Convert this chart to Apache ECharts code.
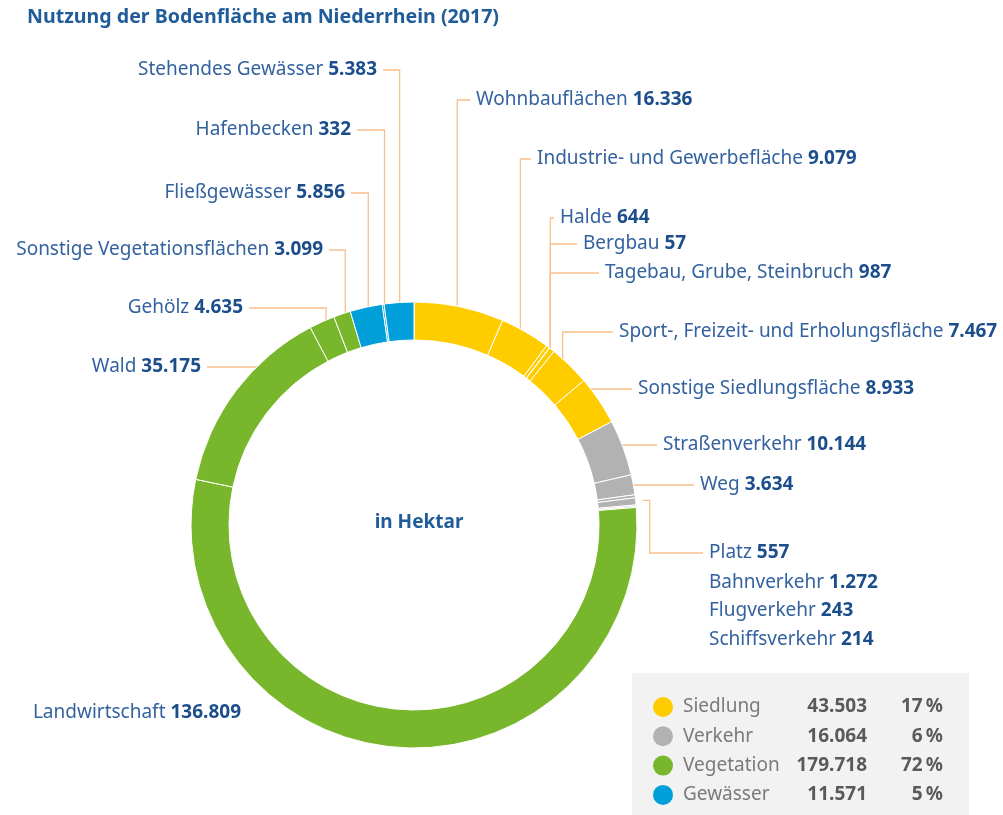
<!DOCTYPE html>
<html>
<head>
<meta charset="utf-8">
<script src="https://cdn.jsdelivr.net/npm/echarts@6/dist/echarts.min.js"></script>
<style>
  html, body { margin: 0; padding: 0; background: #fff; }
  #main { width: 1003px; height: 815px; }
</style>
</head>
<body>
<div id="main"></div>
<script>
// Daten (Hektar), im Uhrzeigersinn ab 12 Uhr
const sliceNames = ['Wohnbauflächen', 'Industrie- und Gewerbefläche', 'Halde', 'Bergbau',
  'Tagebau, Grube, Steinbruch', 'Sport-, Freizeit- und Erholungsfläche', 'Sonstige Siedlungsfläche',
  'Straßenverkehr', 'Weg', 'Platz', 'Bahnverkehr', 'Flugverkehr', 'Schiffsverkehr',
  'Landwirtschaft', 'Wald', 'Gehölz', 'Sonstige Vegetationsflächen',
  'Fließgewässer', 'Hafenbecken', 'Stehendes Gewässer'];
const sliceValues = [16336, 9079, 644, 57, 987, 7467, 8933,
  10144, 3634, 557, 1272, 243, 214,
  136809, 35175, 4635, 3099,
  5856, 332, 5383];
const sliceGroup = [0, 0, 0, 0, 0, 0, 0, 1, 1, 1, 1, 1, 1, 2, 2, 2, 2, 3, 3, 3];
const groupNames = ['Siedlung', 'Verkehr', 'Vegetation', 'Gewässer'];
const groupTotals = [43503, 16064, 179718, 11571];
const groupPercents = [17, 6, 72, 5];

// Layout
const groupColors = ['#FFCC00', '#B2B2B2', '#78B72B', '#009FDA'];
const CX = 414, CY = 525, R0 = 185, R1 = 223;
const FONT = 'Noto Sans';
const FS = 19;
const labelSpots = {
  'Wohnbauflächen': [476, 100, 'left'],
  'Industrie- und Gewerbefläche': [537, 159, 'left'],
  'Halde': [560, 218, 'left'],
  'Bergbau': [583, 244, 'left'],
  'Tagebau, Grube, Steinbruch': [605, 273, 'left'],
  'Sport-, Freizeit- und Erholungsfläche': [619, 332, 'left'],
  'Sonstige Siedlungsfläche': [638, 389, 'left'],
  'Straßenverkehr': [663, 445, 'left'],
  'Weg': [700, 485, 'left'],
  'Platz': [709, 553, 'left'],
  'Bahnverkehr': [709, 583, 'left'],
  'Flugverkehr': [709, 611, 'left'],
  'Schiffsverkehr': [709, 640, 'left'],
  'Landwirtschaft': [241, 713, 'right'],
  'Wald': [201, 367, 'right'],
  'Gehölz': [243, 308, 'right'],
  'Sonstige Vegetationsflächen': [323, 250, 'right'],
  'Fließgewässer': [345, 193, 'right'],
  'Hafenbecken': [351, 130, 'right'],
  'Stehendes Gewässer': [377, 70, 'right']
};
// gemeinsame Zielpunkte für gruppierte Beschriftungen
const leaderAim = {
  'Halde': { from: 2, to: 4, r: 223 },
  'Bergbau': { from: 2, to: 4, r: 223 },
  'Tagebau, Grube, Steinbruch': { from: 2, to: 4, r: 223 },
  'Platz': { from: 9, to: 12, r: 230, kink: 7 },
  'Wald': { from: 14, to: 14, r: 206, frac: 0.58 }
};
const noLeader = ['Landwirtschaft', 'Bahnverkehr', 'Flugverkehr', 'Schiffsverkehr'];

const total = sliceValues.reduce((a, b) => a + b, 0);
const cumStart = [];
let acc = 0;
sliceValues.forEach(v => { cumStart.push(acc); acc += v; });

function aimPoint(from, to, r, frac) {
  const a0 = cumStart[from] / total * 2 * Math.PI;
  const a1 = (cumStart[to] + sliceValues[to]) / total * 2 * Math.PI;
  const a = a0 + (a1 - a0) * (frac == null ? 0.5 : frac);
  return [CX + r * Math.sin(a), CY - r * Math.cos(a)];
}

function fmt(v) {
  return String(v).replace(/\B(?=(\d{3})+(?!\d))/g, '.');
}

const myChart = echarts.init(document.getElementById('main'));

const legendRows = [];
groupNames.forEach((g, i) => {
  const y = 707 + i * 29.3;
  legendRows.push(
    { type: 'circle', shape: { cx: 663, cy: y, r: 10 }, style: { fill: groupColors[i] } },
    { type: 'text', x: 683, y: y, style: { text: g, font: FS + 'px "' + FONT + '"', fill: '#7A7A7A', align: 'left', verticalAlign: 'middle' } },
    { type: 'text', x: 867, y: y, style: { text: fmt(groupTotals[i]), font: 'bold ' + FS + 'px "' + FONT + '"', fill: '#5A5A5A', align: 'right', verticalAlign: 'middle' } },
    { type: 'text', x: 943, y: y, style: { text: groupPercents[i] + '\u2009%', font: 'bold ' + FS + 'px "' + FONT + '"', fill: '#5A5A5A', align: 'right', verticalAlign: 'middle' } }
  );
});

const option = {
  animation: false,
  title: [{
    text: 'Nutzung der Bodenfläche am Niederrhein (2017)',
    left: 22, top: 2,
    textStyle: { fontFamily: FONT, fontSize: 19.6, fontWeight: 'bold', color: '#1F5C99' }
  }, {
    text: 'in Hektar',
    left: CX, top: CY - 17, textAlign: 'center',
    textStyle: { fontFamily: FONT, fontSize: FS, fontWeight: 'bold', color: '#1F5C99' }
  }],
  graphic: [
    { type: 'rect', shape: { x: 632, y: 673, width: 337, height: 142 }, style: { fill: '#F2F2F2' }, z: 0 },
    ...legendRows
  ],
  series: [{
    type: 'pie',
    center: [CX, CY],
    radius: [R0, R1],
    startAngle: 90,
    clockwise: true,
    avoidLabelOverlap: false,
    silent: true,
    itemStyle: { borderColor: '#fff', borderWidth: 1 },
    label: {
      show: true,
      position: 'outside',
      formatter: p => '{n|' + p.name + ' }{v|' + fmt(p.value) + '}',
      rich: {
        n: { fontFamily: FONT, fontSize: FS, color: '#33629F' },
        v: { fontFamily: FONT, fontSize: FS, fontWeight: 'bold', color: '#1D4E8C' }
      }
    },
    labelLine: {
      show: true, length: 5, length2: 5, smooth: false,
      lineStyle: { color: '#F9C08C', width: 1.3 }
    },
    labelLayout: function (p) {
      const name = sliceNames[p.dataIndex];
      const spot = labelSpots[name];
      const aim = leaderAim[name] || { from: p.dataIndex, to: p.dataIndex, r: 213 };
      const pt = aimPoint(aim.from, aim.to, aim.r, aim.frac);
      const sx = spot[2] === 'left' ? spot[0] - 6 : spot[0] + 6;
      const vx = pt[0] + (aim.kink || 0);
      return {
        x: spot[0], y: spot[1], align: spot[2], verticalAlign: 'middle',
        labelLinePoints: [[sx, spot[1]], [vx, spot[1]], [vx, pt[1]], [pt[0], pt[1]]]
      };
    },
    data: sliceNames.map((n, i) => ({
      name: n,
      value: sliceValues[i],
      itemStyle: { color: groupColors[sliceGroup[i]] },
      labelLine: noLeader.indexOf(n) >= 0 ? { show: false } : undefined
    }))
  }]
};

myChart.setOption(option);
window.addEventListener('resize', function () {
  myChart.resize();
});
</script>
</body>
</html>
